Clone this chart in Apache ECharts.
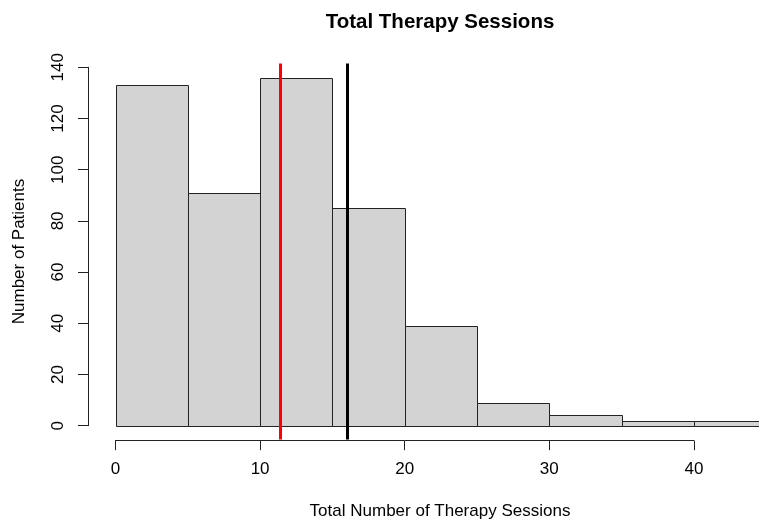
<!DOCTYPE html>
<html>
<head>
<meta charset="utf-8">
<script src="https://cdn.jsdelivr.net/npm/echarts@6/dist/echarts.min.js"></script>
<style>html,body{margin:0;padding:0;background:#fff}#c{width:759px;height:520px}</style>
</head>
<body>
<div id="c"></div>
<script>
// Histogram bins (Total Number of Therapy Sessions)
var binEdges = [0, 5, 10, 15, 20, 25, 30, 35, 40, 45];
var counts = [133, 91, 136, 85, 39, 9, 4, 2, 2];
// Vertical reference lines
var redLineValue = 11.4;
var blackLineValue = 16.0;
// Axis ticks
var xTicks = [0, 10, 20, 30, 40];
var yTicks = [0, 20, 40, 60, 80, 100, 120, 140];
// Visible x range of the plot area (picture is cropped at the right edge)
var xViewMax = 44.5;

var titleText = 'Total Therapy Sessions';
var xTitle = 'Total Number of Therapy Sessions';
var yTitle = 'Number of Patients';

var barData = counts.map(function (c, i) { return [binEdges[i], binEdges[i + 1], c]; });

var FONT = '"Liberation Sans", Arial, sans-serif';
var chart = echarts.init(document.getElementById('c'), null, {renderer: 'canvas'});

var yMaxCount = Math.max.apply(null, counts);
var pad = yMaxCount * 0.04;

chart.setOption({
  animation: false,
  backgroundColor: '#fff',
  grid: [
    {left: 115.5, right: 0, top: 63.6, bottom: 80.4, containLabel: false},
    {left: 115.5, width: 578.4, top: 67.3, height: 358.4, containLabel: false}
  ],
  xAxis: [
    {gridIndex: 0, type: 'value', min: binEdges[0], max: xViewMax, show: false},
    {gridIndex: 1, type: 'value', min: xTicks[0], max: xTicks[xTicks.length - 1], interval: 10,
     offset: 15, position: 'bottom',
     axisLine: {show: true, onZero: false, lineStyle: {color: '#222', width: 1}},
     axisTick: {show: true, length: 9.5, lineStyle: {color: '#222', width: 1}},
     axisLabel: {show: true, margin: 20, color: '#000', fontSize: 17, fontFamily: FONT},
     splitLine: {show: false}}
  ],
  yAxis: [
    {gridIndex: 0, type: 'value', min: -pad, max: yMaxCount + pad, show: false},
    {gridIndex: 1, type: 'value', min: yTicks[0], max: yTicks[yTicks.length - 1], interval: 20,
     offset: 27.5, position: 'left',
     axisLine: {show: true, onZero: false, lineStyle: {color: '#222', width: 1}},
     axisTick: {show: true, length: 10, lineStyle: {color: '#222', width: 1}},
     axisLabel: {show: true, rotate: 90, margin: 21, color: '#000', fontSize: 17, fontFamily: FONT},
     splitLine: {show: false}}
  ],
  graphic: [
    {type: 'text', x: 440, y: 22, style: {text: titleText, align: 'center', verticalAlign: 'middle',
      font: 'bold 20.5px ' + FONT, fill: '#000'}},
    {type: 'text', x: 440, y: 511, style: {text: xTitle, align: 'center', verticalAlign: 'middle',
      font: '17px ' + FONT, fill: '#000'}},
    {type: 'text', x: 19, y: 251.5, rotation: Math.PI / 2, style: {text: yTitle, align: 'center', verticalAlign: 'middle',
      font: '17px ' + FONT, fill: '#000'}}
  ],
  series: [
    {
      type: 'custom',
      xAxisIndex: 0, yAxisIndex: 0,
      clip: true,
      data: barData,
      renderItem: function (params, api) {
        var p0 = api.coord([api.value(0), api.value(2)]);
        var p1 = api.coord([api.value(1), 0]);
        return {
          type: 'rect',
          shape: {x: Math.round(p0[0]) + 0.5, y: Math.round(p0[1]) + 0.5,
                  width: Math.round(p1[0]) - Math.round(p0[0]),
                  height: Math.round(p1[1]) - Math.round(p0[1])},
          style: {fill: '#D3D3D3', stroke: '#222', lineWidth: 1}
        };
      },
      markLine: {
        silent: true,
        symbol: ['none', 'none'],
        label: {show: false},
        data: [
          {xAxis: redLineValue, lineStyle: {color: '#FF0000', width: 3, type: 'solid'}},
          {xAxis: blackLineValue, lineStyle: {color: '#000000', width: 3, type: 'solid'}}
        ]
      }
    }
  ]
});
</script>
</body>
</html>
